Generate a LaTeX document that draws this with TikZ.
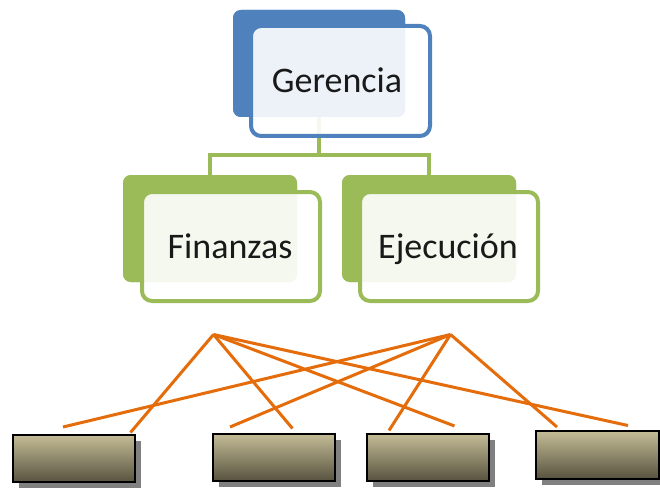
\documentclass[tikz,border=0pt]{standalone}
\usepackage{fontspec}
\setmainfont{Carlito}
\usetikzlibrary{shadows}
\definecolor{gblue}{HTML}{4F81BD}
\definecolor{ggreen}{HTML}{9BBB59}
\definecolor{gorange}{HTML}{E46C0A}
\definecolor{btop}{HTML}{C4BC96}
\definecolor{bmid}{HTML}{9E9675}
\definecolor{bbot}{HTML}{57523F}
\definecolor{shadowgray}{HTML}{808080}
\tikzset{
  backbox/.style={rounded corners=8pt, draw=none, fill=#1, inner sep=0pt, outer sep=0pt},
  frontbox/.style={rounded corners=10pt, draw=#1, line width=4pt, fill=white, fill opacity=0.9, draw opacity=1, inner sep=0pt, outer sep=0pt},
  label text/.style={anchor=base, inner sep=0pt, font=\fontsize{36}{40}\selectfont, text=black!90},
  bus/.style={draw=ggreen, line width=4pt},
  tie/.style={draw=gorange, line width=3pt},
  unitbox/.style={draw=black, line width=2pt, minimum width=122.5pt, minimum height=47.5pt, inner sep=0pt,
    top color=btop, middle color=bmid, bottom color=bbot,
    drop shadow={shadow xshift=6pt, shadow yshift=-6pt, fill=shadowgray, opacity=1}},
}
\begin{document}
\begin{tikzpicture}[x=1pt,y=-1pt]
\useasboundingbox[fill=white] (0,0) rectangle (660,489);
% back boxes (for anchors)
\path node[backbox=gblue, minimum width=172pt, minimum height=107pt] (gerb) at (319,63.5) {};
\path node[backbox=ggreen, minimum width=174pt, minimum height=107pt] (finb) at (210,228.5) {};
\path node[backbox=ggreen, minimum width=174pt, minimum height=107pt] (ejeb) at (429,228.5) {};
% connectors
\coordinate (busy) at (0,155);
\draw[bus] (gerb.south) -- (gerb.south |- busy);
\draw[bus] (finb.north) -- (finb.north |- busy) -- (ejeb.north |- busy) -- (ejeb.north);
% redraw back boxes over connectors
\node[backbox=gblue, minimum width=172pt, minimum height=107pt] at (gerb.center) {};
\node[backbox=ggreen, minimum width=174pt, minimum height=107pt] at (finb.center) {};
\node[backbox=ggreen, minimum width=174pt, minimum height=107pt] at (ejeb.center) {};
% front boxes
\node[frontbox=gblue, minimum width=179pt, minimum height=110pt] (gerf) at (340.5,81) {};
\node[frontbox=ggreen, minimum width=178pt, minimum height=109pt] (finf) at (231,246.5) {};
\node[frontbox=ggreen, minimum width=178pt, minimum height=109pt] (ejef) at (449,246.5) {};
% labels
\node[label text] (gert) at (337,93) {Gerencia};
\node[label text] (fint) at (230,258) {Finanzas};
\node[label text] (ejet) at (448,258) {Ejecución};
% orange ties
\coordinate (apL) at (213.5,334.5);
\coordinate (apR) at (450.5,334.5);
\coordinate (l1) at (130.5,432.5);
\coordinate (l2) at (292.5,428.5);
\coordinate (l3) at (454.5,426);
\coordinate (l4) at (628,425.5);
\coordinate (r1) at (63,427);
\coordinate (r2) at (230,427);
\coordinate (r3) at (389,430.5);
\coordinate (r4) at (557,427);
\foreach \e in {l1,l2,l3,l4} \draw[tie] (apL) -- (\e);
\foreach \e in {r1,r2,r3,r4} \draw[tie] (apR) -- (\e);
% bottom boxes
\node[unitbox] (u1) at (73.8,458.7) {};
\node[unitbox] (u2) at (274.2,457.5) {};
\node[unitbox] (u3) at (428.2,457.5) {};
\node[unitbox] (u4) at (597.3,455.2) {};
\end{tikzpicture}
\end{document}
